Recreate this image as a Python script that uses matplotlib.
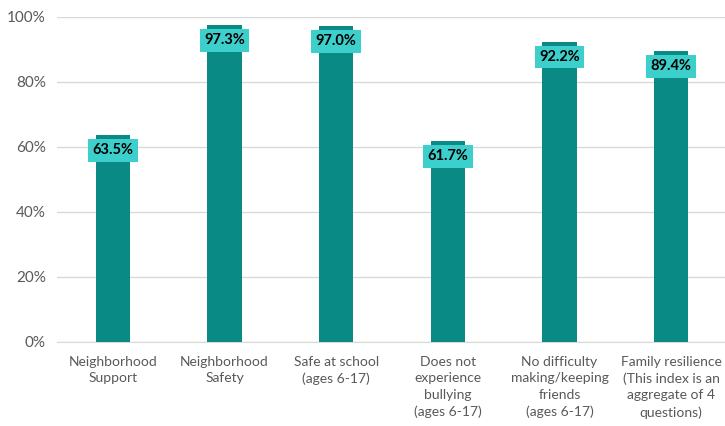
import matplotlib.pyplot as plt
import numpy as np

plt.rcParams['font.family'] = ['Lato', 'DejaVu Sans']

categories = [
    "Neighborhood\nSupport",
    "Neighborhood\nSafety",
    "Safe at school\n(ages 6-17)",
    "Does not\nexperience\nbullying\n(ages 6-17)",
    "No difficulty\nmaking/keeping\nfriends\n(ages 6-17)",
    "Family resilience\n(This index is an\naggregate of 4\nquestions)",
]
values = [63.5, 97.3, 97.0, 61.7, 92.2, 89.4]
yticks = [0, 20, 40, 60, 80, 100]

bar_color = '#0A8A84'
label_bg = '#3DCFCB'
grey = '#595959'

fig = plt.figure(figsize=(7.25, 4.26), dpi=100)
ax = fig.add_axes([57 / 725, 1 - 341.7 / 426, 670 / 725, 325 / 426])

x = np.arange(len(categories))
ax.bar(x, values, width=0.31, color=bar_color, zorder=3)

for xi, v in zip(x, values):
    ax.annotate(f"{v:.1f}%", (xi, v), xytext=(0, -10.8), textcoords='offset points',
                ha='center', va='center', fontsize=10.5, fontweight='bold', color='black',
                bbox=dict(boxstyle='square,pad=0.3', fc=label_bg, ec='none'), zorder=4)

ax.set_xlim(-0.5, len(categories) - 0.5)
ax.set_ylim(0, 100)
ax.set_yticks(yticks)
ax.set_yticklabels([f"{t}%" for t in yticks])
ax.set_xticks(x)
ax.set_xticklabels(categories, linespacing=1.45, va='top')
ax.tick_params(axis='both', length=0, labelcolor=grey)
ax.tick_params(axis='x', pad=10, labelsize=10)
ax.tick_params(axis='y', pad=8, labelsize=11)
ax.grid(axis='y', color='#D9D9D9', linewidth=1, zorder=0)
for s in ['top', 'right', 'left']:
    ax.spines[s].set_visible(False)
ax.spines['bottom'].set_color('#D9D9D9')

fig.savefig('out.png', dpi=100)
